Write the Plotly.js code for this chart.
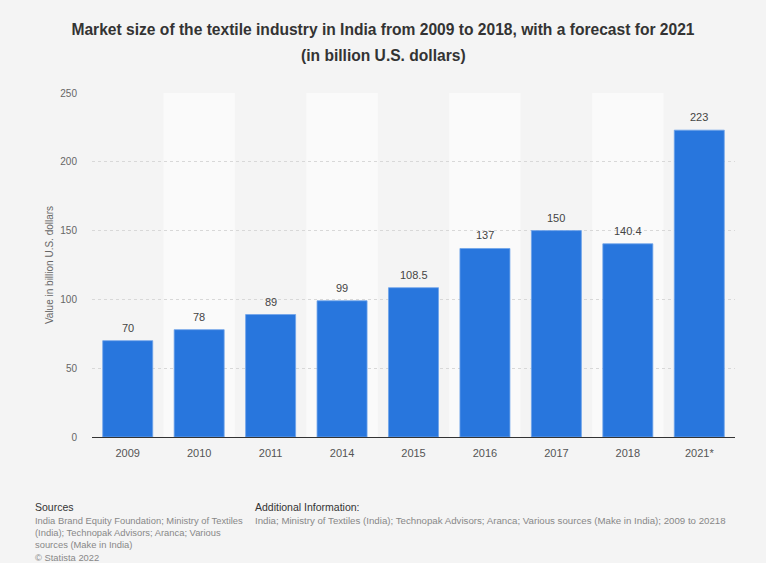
<!DOCTYPE html>
<html><head><meta charset="utf-8">
<script src="https://cdn.plot.ly/plotly-3.0.1.min.js"></script>
<style>html,body{margin:0;padding:0;background:#f4f4f4;}#chart{width:766px;height:563px;}</style>
</head><body><div id="chart"></div>
<script>
const categories = ["2009","2010","2011","2014","2015","2016","2017","2018","2021*"];
const values = [70, 78, 89, 99, 108.5, 137, 150, 140.4, 223];
const valueLabels = ["70","78","89","99","108.5","137","150","140.4","223"];
const yTicks = [0, 50, 100, 150, 200, 250];

const FONT = 'Liberation Sans, Arial, Helvetica, sans-serif';

const shapes = [];
categories.forEach((c, i) => {
  if (i % 2 === 1) {
    shapes.push({type:'rect', xref:'x', yref:'paper', x0:i-0.5, x1:i+0.5, y0:0, y1:1,
      fillcolor:'#fafafa', line:{width:0}, layer:'below'});
  }
});

const trace = {
  type:'bar', x: categories, y: values,
  marker:{color:'#2876dd', line:{color:'#6fa3ea', width:0.8}},
  hoverinfo:'none'
};

const annotations = categories.map((c, i) => ({
  x: i, y: values[i], xref:'x', yref:'y', text: valueLabels[i],
  showarrow:false, yanchor:'bottom', yshift:5,
  font:{family:FONT, size:11, color:'#444'}
}));

annotations.push(
  {xref:'paper', yref:'paper', x:0.4526, y:1.11, xanchor:'center', yanchor:'middle', showarrow:false,
    text:'<b>(in billion U.S. dollars)</b>', font:{family:FONT, size:15.6, color:'#333'}},
  {xref:'paper', yref:'paper', x:-0.091, y:-0.181, xanchor:'left', yanchor:'top', align:'left', showarrow:false,
    text:'Sources', font:{family:FONT, size:10.5, color:'#333'}},
  {xref:'paper', yref:'paper', x:-0.091, y:-0.221, xanchor:'left', yanchor:'top', align:'left', showarrow:false,
    text:'India Brand Equity Foundation; Ministry of Textiles<br>(India); Technopak Advisors; Aranca; Various<br>sources (Make in India)<br>© Statista 2022',
    font:{family:FONT, size:9.4, color:'#888'}},
  {xref:'paper', yref:'paper', x:0.25, y:-0.181, xanchor:'left', yanchor:'top', align:'left', showarrow:false,
    text:'Additional Information:', font:{family:FONT, size:10.5, color:'#333'}},
  {xref:'paper', yref:'paper', x:0.25, y:-0.221, xanchor:'left', yanchor:'top', align:'left', showarrow:false,
    text:'India; Ministry of Textiles (India); Technopak Advisors; Aranca; Various sources (Make in India); 2009 to 20218',
    font:{family:FONT, size:9.7, color:'#888'}}
);

const layout = {
  width:766, height:563,
  paper_bgcolor:'#f4f4f4', plot_bgcolor:'#f4f4f4',
  margin:{l:92, r:31, t:93, b:126},
  bargap:0.3,
  showlegend:false,
  title:{text:'<b>Market size of the textile industry in India from 2009 to 2018, with a forecast for 2021</b>',
    x:0.5, xanchor:'center', xref:'container', yref:'container', y:0.9467, yanchor:'middle',
    font:{family:FONT, size:15.6, color:'#333'}},
  xaxis:{type:'category', showgrid:false, zeroline:false, showline:true, linecolor:'#333', linewidth:1,
    ticks:'', ticklabelstandoff:6, tickfont:{family:FONT, size:11, color:'#555'}, fixedrange:true},
  yaxis:{range:[0,250], tickvals:yTicks, ticktext:yTicks.map(String), showgrid:true,
    gridcolor:'#d8d8d8', griddash:'dot', gridwidth:1, zeroline:false, showline:false,
    ticks:'', ticklabelstandoff:14,
    tickfont:{family:FONT, size:10, color:'#666'},
    title:{text:'Value in billion U.S. dollars', standoff:4, font:{family:FONT, size:10, color:'#666'}}},
  shapes: shapes,
  annotations: annotations
};

Plotly.newPlot('chart', [trace], layout, {displayModeBar:false, staticPlot:true});
</script></body></html>
